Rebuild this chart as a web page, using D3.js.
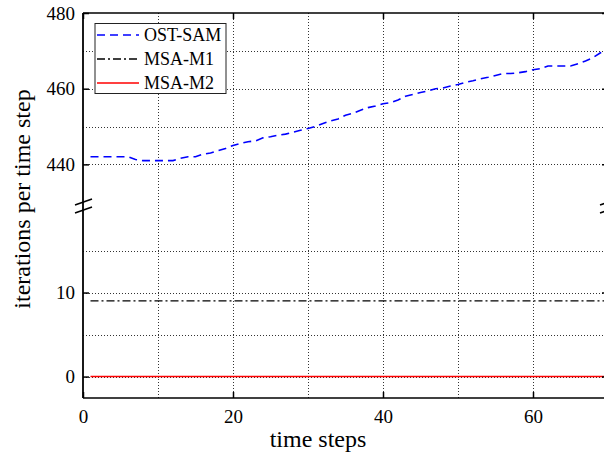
<!DOCTYPE html>
<html><head><meta charset="utf-8">
<script src="https://cdn.jsdelivr.net/npm/d3@7"></script>
<style>body{margin:0;background:#fff}svg{display:block}svg text{font-family:"Liberation Serif","Times New Roman",serif !important;fill:#000}</style>
</head><body>
<script>
const timeSteps = d3.range(1, 71);
const ostSam = [442,442,442,442,442,442,441.3,441,441,441,441,441,441.6,442,442,442.7,443,443.6,444.2,445,445.5,446,446.2,447,447.3,447.7,448,448.5,449,449.5,450,450.8,451.5,452,453,453.5,454.3,455,455.4,456,456.3,457,458,458.5,459,459.4,460,460.2,460.7,461.1,461.7,462.1,462.6,463,463.5,464,464,464.2,464.5,465,465.3,466,466,466,466,466.6,467.3,468.2,469.5,470.3];
const msaM1 = timeSteps.map(() => 9);
const msaM2 = timeSteps.map(() => 0);
const seriesNames = ["OST-SAM", "MSA-M1", "MSA-M2"];
const xTicks = [0, 20, 40, 60];
const xGrid = [10, 20, 30, 40, 50, 60, 70];
const yTicksUpper = [440, 460, 480];
const yGridUpper = [440, 450, 460, 470];
const yTicksLower = [0, 10];
const yGridLower = [0, 5, 10, 15];

const W = 604, H = 466;
const L = 83, R = 608, T = 13, B = 398, BRK = 206;
const FONT = '"Liberation Serif","Times New Roman",serif';
const svg = d3.select("body").append("svg").attr("width", W).attr("height", H);

const x = d3.scaleLinear().domain([0, 70]).range([L, R]);
const yU = d3.scaleLinear().domain([429, 480]).range([BRK, T]);
const yL = d3.scaleLinear().domain([-2.55, 20.3]).range([B, BRK]);

const grid = svg.append("g").attr("stroke", "#333").attr("stroke-width", 1).attr("stroke-dasharray", "1,2");
xGrid.forEach(v => grid.append("line").attr("x1", Math.round(x(v)) + 0.5).attr("x2", Math.round(x(v)) + 0.5).attr("y1", T).attr("y2", B));
yGridUpper.forEach(v => grid.append("line").attr("x1", L).attr("x2", R).attr("y1", Math.round(yU(v)) + 0.5).attr("y2", Math.round(yU(v)) + 0.5));
yGridLower.forEach(v => grid.append("line").attr("x1", L).attr("x2", R).attr("y1", Math.round(yL(v)) + 0.5).attr("y2", Math.round(yL(v)) + 0.5));

// series
const lineU = d3.line().x((d, i) => x(timeSteps[i])).y(d => yU(d));
const lineL = d3.line().x((d, i) => x(timeSteps[i])).y(d => yL(d));
svg.append("path").datum(msaM2).attr("d", lineL).attr("fill", "none").attr("stroke", "#ff0000").attr("stroke-width", 1.6);
svg.append("path").datum(msaM1).attr("d", lineL).attr("fill", "none").attr("stroke", "#000").attr("stroke-width", 1.3).attr("stroke-dasharray", "8,3,2,3");
svg.append("path").datum(ostSam).attr("d", lineU).attr("fill", "none").attr("stroke", "#0000ff").attr("stroke-width", 1.6).attr("stroke-dasharray", "8,5");

// axes frame
const axG = svg.append("g");
const xAxisB = d3.axisBottom(x).tickValues(xTicks).tickSize(-6).tickPadding(12).tickFormat(d3.format("d"));
const gB = axG.append("g").attr("transform", `translate(0,${B})`).call(xAxisB);
const xAxisT = d3.axisTop(x).tickValues(xTicks).tickSize(-6).tickFormat("");
const gT = axG.append("g").attr("transform", `translate(0,${T})`).call(xAxisT);
const gLU = axG.append("g").attr("transform", `translate(${L},0)`).call(d3.axisLeft(yU).tickValues(yTicksUpper).tickSize(-6).tickPadding(8).tickFormat(d3.format("d")));
const gLL = axG.append("g").attr("transform", `translate(${L},0)`).call(d3.axisLeft(yL).tickValues(yTicksLower).tickSize(-6).tickPadding(8).tickFormat(d3.format("d")));
const gRU = axG.append("g").attr("transform", `translate(${R},0)`).call(d3.axisRight(yU).tickValues(yTicksUpper).tickSize(-6).tickFormat(""));
const gRL = axG.append("g").attr("transform", `translate(${R},0)`).call(d3.axisRight(yL).tickValues(yTicksLower).tickSize(-6).tickFormat(""));
[gB, gT, gLU, gLL, gRU, gRL].forEach(g => {
  g.attr("font-family", FONT).attr("font-size", 19);
  g.select(".domain").remove();
  g.selectAll(".tick line").attr("stroke", "#000").attr("stroke-width", 1.5);
  g.selectAll("text").style("font-family", FONT).style("font-size", "19px");
});
// spines
axG.append("line").attr("x1", L).attr("x2", R).attr("y1", T).attr("y2", T).attr("stroke", "#000").attr("stroke-width", 1.6);
axG.append("line").attr("x1", L).attr("x2", R).attr("y1", B).attr("y2", B).attr("stroke", "#000").attr("stroke-width", 1.6);
axG.append("line").attr("x1", L).attr("x2", L).attr("y1", T).attr("y2", B).attr("stroke", "#000").attr("stroke-width", 1.8);
axG.append("line").attr("x1", R).attr("x2", R).attr("y1", T).attr("y2", B).attr("stroke", "#000").attr("stroke-width", 1.8);

// break marks
[L, R].forEach(cx => {
  [-4, 4].forEach(off => {
    axG.append("line").attr("x1", cx - 8).attr("x2", cx + 9).attr("y1", BRK + off + 3).attr("y2", BRK + off - 3)
      .attr("stroke", "#000").attr("stroke-width", 1.6);
  });
});

// labels
svg.append("text").attr("x", 318).attr("y", 447).attr("text-anchor", "middle").style("font-family", FONT).style("font-size", "24px").text("time steps");
svg.append("text").attr("transform", "translate(30,199) rotate(-90)").attr("text-anchor", "middle").style("font-family", FONT).style("font-size", "24px").text("iterations per time step");

// legend
const leg = svg.append("g");
leg.append("rect").attr("x", 95).attr("y", 23.5).attr("width", 131).attr("height", 70).attr("fill", "#fff").attr("stroke", "#222").attr("stroke-width", 1);
const legStyles = [
  {c: "#0000ff", d: "8,5", w: 1.6},
  {c: "#000", d: "8,3,2,3", w: 1.3},
  {c: "#ff0000", d: null, w: 1.6}
];
seriesNames.forEach((n, i) => {
  const yy = 35 + i * 24;
  const ln = leg.append("line").attr("x1", 97).attr("x2", 139).attr("y1", yy).attr("y2", yy)
    .attr("stroke", legStyles[i].c).attr("stroke-width", legStyles[i].w);
  if (legStyles[i].d) ln.attr("stroke-dasharray", legStyles[i].d);
  leg.append("text").attr("x", 144).attr("y", yy + 6).style("font-family", FONT).style("font-size", "18px").text(n);
});
</script>
</body></html>
